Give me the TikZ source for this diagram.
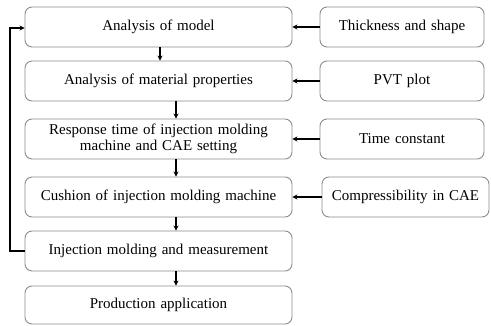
\documentclass[tikz,border=0pt]{standalone}
\usepackage{fontspec}
\setmainfont[WordSpace={1.3}]{Liberation Serif}
\usetikzlibrary{arrows.meta}
\definecolor{bordergray}{RGB}{140,140,140}
\tikzset{
  box/.style={draw=bordergray, line width=0.9pt, rounded corners=7pt, align=center, font=\fontsize{15}{16.5}\selectfont, inner sep=0pt},
  leftbox/.style={box, minimum width=267pt, minimum height=40pt},
  rightbox/.style={box, minimum width=164pt, minimum height=40pt},
  conn/.style={line width=1.8pt, -{Stealth[length=5pt,width=5pt]}},
}
\begin{document}
\begin{tikzpicture}[x=1pt,y=-1pt]
\useasboundingbox (0,0) rectangle (491,325);
\node[leftbox] (a1) at (158.5,27) {Analysis of model};
\node[leftbox] (a2) at (158.5,81) {Analysis of material properties};
\node[leftbox] (a3) at (158.5,139) {Response time of injection molding\\machine and CAE setting};
\node[leftbox] (a4) at (158.5,197) {Cushion of injection molding machine};
\node[leftbox] (a5) at (158.5,251) {Injection molding and measurement};
\node[leftbox, minimum height=38pt] (a6) at (158.5,305) {Production application};
\node[rightbox] (b1) at (402,27) {Thickness and shape};
\node[rightbox] (b2) at (402,81) {PVT plot};
\node[rightbox] (b3) at (402,139) {Time constant};
\node[rightbox, minimum width=167pt] (b4) at (405.5,197) {Compressibility in CAE};
\draw[conn] (b1.west) -- (a1.east);
\draw[conn] (b2.west) -- (a2.east);
\draw[conn] (b3.west) -- (a3.east);
\draw[conn] (b4.west) -- (a4.east);
\draw[conn] ([xshift=1.5pt]a1.south) -- ([xshift=1.5pt]a2.north);
\draw[conn] ([xshift=17.5pt]a2.south) -- ([xshift=17.5pt]a3.north);
\draw[conn] ([xshift=17.5pt]a3.south) -- ([xshift=17.5pt]a4.north);
\draw[conn] ([xshift=17.5pt]a4.south) -- ([xshift=17.5pt]a5.north);
\draw[conn] ([xshift=17.5pt]a5.south) -- ([xshift=17.5pt]a6.north);
\coordinate (lb) at (10,251);
\coordinate (lt) at (10,28);
\draw[conn, line width=1.8pt] (a5.west) -- (lb) -- (lt) -- (a1.west|-lt);
\end{tikzpicture}
\end{document}
